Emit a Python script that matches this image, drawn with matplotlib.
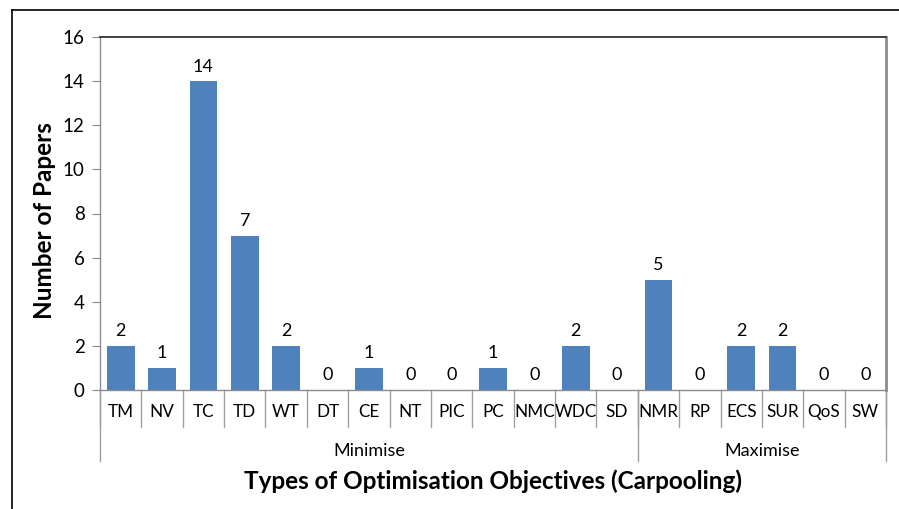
import matplotlib
matplotlib.use("Agg")
import matplotlib.pyplot as plt
from matplotlib.transforms import blended_transform_factory
from matplotlib.lines import Line2D

categories = ["TM", "NV", "TC", "TD", "WT", "DT", "CE", "NT", "PIC", "PC", "NMC", "WDC", "SD",
              "NMR", "RP", "ECS", "SUR", "QoS", "SW"]
values = [2, 1, 14, 7, 2, 0, 1, 0, 0, 1, 0, 2, 0, 5, 0, 2, 2, 0, 0]
groups = ["Minimise", "Maximise"]
group_sizes = [13, 6]
yticks = [0, 2, 4, 6, 8, 10, 12, 14, 16]

plt.rcParams['font.family'] = ['Lato', 'DejaVu Sans']

W, H = 899, 509
fig = plt.figure(figsize=(W / 100, H / 100), dpi=100)
L, R, T, B = 100, 886, 37, 390
ax = fig.add_axes([L / W, 1 - B / H, (R - L) / W, (B - T) / H])

n = len(categories)
x = list(range(n))
ax.bar(x, values, width=0.67, color="#4F81BD", zorder=2)
for xi, v in zip(x, values):
    ax.text(xi, v + 0.3, str(v), ha="center", va="bottom", fontsize=13, color="black")

ax.set_xlim(-0.5, n - 0.5)
ax.set_ylim(0, 16)
ax.set_yticks(yticks)
ax.set_yticklabels([str(t) for t in yticks], fontsize=13.5)
ax.tick_params(axis="y", direction="out", length=6, color="#888888", pad=5)
ax.set_xticks([])

for s in ["left", "right"]:
    ax.spines[s].set_color("#8c8c8c")
ax.spines["left"].set_linewidth(1.0)
ax.spines["right"].set_linewidth(2.0)
ax.spines["top"].set_color("#222222")
ax.spines["top"].set_linewidth(1.2)
ax.spines["bottom"].set_color("#8c8c8c")
ax.spines["bottom"].set_linewidth(1.0)

tr = blended_transform_factory(ax.transData, ax.transAxes)
h = B - T
y1 = -(427 - B) / h
y2 = -(461 - B) / h
yl1 = -(412 - B) / h
yl2 = -(451 - B) / h

# category separators
for i in range(n + 1):
    xb = i - 0.5
    ax.add_line(Line2D([xb, xb], [0, y1], transform=tr, color="#a0a0a0", lw=1.0, clip_on=False))
# group separators
start = 0
bounds = [0]
for gs in group_sizes:
    start += gs
    bounds.append(start)
for b in bounds:
    xb = b - 0.5
    ax.add_line(Line2D([xb, xb], [0, y2], transform=tr, color="#a0a0a0", lw=1.0, clip_on=False))

for i, c in enumerate(categories):
    ax.text(i, yl1, c, transform=tr, ha="center", va="center", fontsize=12.3, color="black")
for g, a, b in zip(groups, bounds[:-1], bounds[1:]):
    ax.text((a + b - 1) / 2, yl2, g, transform=tr, ha="center", va="center", fontsize=13, color="black")

fig.text(493 / W, 1 - 481 / H, "Types of Optimisation Objectives (Carpooling)", ha="center", va="center",
         fontsize=17.5, fontweight="bold")
fig.text(45 / W, 1 - 221 / H, "Number of Papers", ha="center", va="center", rotation=90,
         fontsize=17.5, fontweight="bold")

# outer chart frame (cropped)
fig.add_artist(Line2D([12 / W, 12 / W], [0, 1 - 10 / H], transform=fig.transFigure, color="black", lw=1.2))
fig.add_artist(Line2D([12 / W, 1], [1 - 10 / H, 1 - 10 / H], transform=fig.transFigure, color="black", lw=1.2))

fig.savefig("out.png", dpi=100)
